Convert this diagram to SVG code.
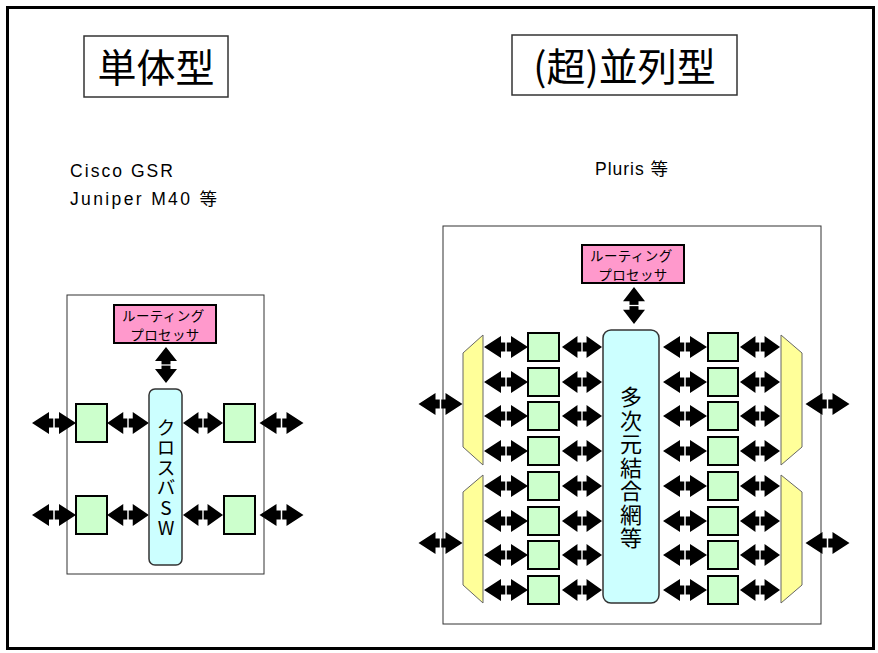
<svg xmlns="http://www.w3.org/2000/svg" xmlns:xlink="http://www.w3.org/1999/xlink" width="878" height="653" viewBox="0 0 878 653">
  <style>
    .frame { fill: #ffffff; stroke: #000000; stroke-width: 3; }
    .title { fill: #ffffff; stroke: #333333; stroke-width: 1.5; }
    .title-text { font-family: "Noto Sans CJK JP", "Liberation Sans", sans-serif; font-size: 39px; fill: #000000; text-anchor: middle; }
    .label { font-family: "Liberation Sans", "Noto Sans CJK JP", sans-serif; font-size: 17.5px; fill: #000000; }
    .cage { fill: none; stroke: #333333; stroke-width: 1; }
    .cpu { fill: #ff99cc; stroke: #000000; stroke-width: 2; }
    .cpu-text { font-family: "Noto Sans CJK JP", sans-serif; font-size: 13.5px; letter-spacing: 0.4px; fill: #000000; text-anchor: middle; }
    .fabric { fill: #ccffff; stroke: #333333; stroke-width: 1.5; }
    .fabric-text { font-family: "Noto Sans CJK JP", "Liberation Sans", sans-serif; fill: #000000; writing-mode: vertical-rl; text-orientation: upright; }
    .lc { fill: #ccffcc; stroke: #000000; stroke-width: 2; }
    .mux { fill: #ffff99; stroke: #666666; stroke-width: 1; }
  </style>
  <defs>
    <!-- bidirectional block arrow, 44 long, centred on the origin -->
    <g id="harr">
      <path d="M-22,0 L-5,-11 L-5,-4.5 L5,-4.5 L5,-11 L22,0 L5,11 L5,4.5 L-5,4.5 L-5,11 Z" fill="#000000"/>
      <line x1="0" y1="-5.5" x2="0" y2="5.5" stroke="#ffffff" stroke-width="1.5"/>
    </g>
  </defs>

  <!-- page frame -->
  <rect class="frame" x="7.5" y="7.5" width="866" height="641"/>

  <!-- headings -->
  <g id="title-single">
    <rect class="title" x="84" y="36" width="144" height="61"/>
    <text class="title-text" x="156" y="82">単体型</text>
  </g>
  <g id="title-parallel">
    <rect class="title" x="512" y="35" width="225" height="60"/>
    <text class="title-text" x="624.5" y="81" font-size="38">(超)並列型</text>
  </g>
  <g id="caption-single">
    <text class="label" x="70" y="177" textLength="103" lengthAdjust="spacing">Cisco GSR</text>
    <text class="label" x="70" y="205" textLength="147" lengthAdjust="spacing">Juniper M40 等</text>
  </g>
  <g id="caption-parallel">
    <text class="label" x="595" y="175" textLength="73" lengthAdjust="spacing">Pluris 等</text>
  </g>

  <!-- chassis outlines -->
  <rect id="chassis-single" class="cage" x="67" y="295" width="197" height="279"/>
  <rect id="chassis-parallel" class="cage" x="443" y="226" width="378" height="398"/>

  <!-- connectors -->
  <g id="connectors">
    <!-- single chassis -->
    <use xlink:href="#harr" transform="translate(166,365) rotate(90) scale(0.82,1)"/>
    <use xlink:href="#harr" transform="translate(54,423)"/>
    <use xlink:href="#harr" transform="translate(128,423) scale(0.95,1)"/>
    <use xlink:href="#harr" transform="translate(203,423) scale(0.91,1)"/>
    <use xlink:href="#harr" transform="translate(281.5,423)"/>
    <use xlink:href="#harr" transform="translate(54,515)"/>
    <use xlink:href="#harr" transform="translate(128,515) scale(0.95,1)"/>
    <use xlink:href="#harr" transform="translate(203,515) scale(0.91,1)"/>
    <use xlink:href="#harr" transform="translate(281.5,515)"/>

    <!-- parallel chassis -->
    <use xlink:href="#harr" transform="translate(634,305.5) rotate(90) scale(0.84,1)"/>
    <use xlink:href="#harr" transform="translate(440.5,404)"/>
    <use xlink:href="#harr" transform="translate(440.5,543)"/>
    <use xlink:href="#harr" transform="translate(827.5,404)"/>
    <use xlink:href="#harr" transform="translate(827.5,543)"/>

    <use xlink:href="#harr" transform="translate(506,347)"/>
    <use xlink:href="#harr" transform="translate(506,382)"/>
    <use xlink:href="#harr" transform="translate(506,416)"/>
    <use xlink:href="#harr" transform="translate(506,451)"/>
    <use xlink:href="#harr" transform="translate(506,486)"/>
    <use xlink:href="#harr" transform="translate(506,521)"/>
    <use xlink:href="#harr" transform="translate(506,555)"/>
    <use xlink:href="#harr" transform="translate(506,590)"/>

    <use xlink:href="#harr" transform="translate(582,347) scale(0.91,1)"/>
    <use xlink:href="#harr" transform="translate(582,382) scale(0.91,1)"/>
    <use xlink:href="#harr" transform="translate(582,416) scale(0.91,1)"/>
    <use xlink:href="#harr" transform="translate(582,451) scale(0.91,1)"/>
    <use xlink:href="#harr" transform="translate(582,486) scale(0.91,1)"/>
    <use xlink:href="#harr" transform="translate(582,521) scale(0.91,1)"/>
    <use xlink:href="#harr" transform="translate(582,555) scale(0.91,1)"/>
    <use xlink:href="#harr" transform="translate(582,590) scale(0.91,1)"/>

    <use xlink:href="#harr" transform="translate(685,347)"/>
    <use xlink:href="#harr" transform="translate(685,382)"/>
    <use xlink:href="#harr" transform="translate(685,416)"/>
    <use xlink:href="#harr" transform="translate(685,451)"/>
    <use xlink:href="#harr" transform="translate(685,486)"/>
    <use xlink:href="#harr" transform="translate(685,521)"/>
    <use xlink:href="#harr" transform="translate(685,555)"/>
    <use xlink:href="#harr" transform="translate(685,590)"/>

    <use xlink:href="#harr" transform="translate(760,347) scale(0.91,1)"/>
    <use xlink:href="#harr" transform="translate(760,382) scale(0.91,1)"/>
    <use xlink:href="#harr" transform="translate(760,416) scale(0.91,1)"/>
    <use xlink:href="#harr" transform="translate(760,451) scale(0.91,1)"/>
    <use xlink:href="#harr" transform="translate(760,486) scale(0.91,1)"/>
    <use xlink:href="#harr" transform="translate(760,521) scale(0.91,1)"/>
    <use xlink:href="#harr" transform="translate(760,555) scale(0.91,1)"/>
    <use xlink:href="#harr" transform="translate(760,590) scale(0.91,1)"/>
  </g>

  <!-- single chassis nodes -->
  <g id="rp-single">
    <rect class="cpu" x="114" y="305" width="102" height="38"/>
    <text class="cpu-text">
      <tspan x="165" y="320.5">ルーティング</tspan>
      <tspan x="165" y="340">プロセッサ</tspan>
    </text>
  </g>
  <g id="crossbar">
    <rect class="fabric" x="149" y="389" width="33" height="176" rx="6" ry="6"/>
    <text class="fabric-text" x="166" y="418" font-size="19" letter-spacing="1">クロスバSW</text>
  </g>
  <rect id="lc-s1" class="lc" x="76" y="404" width="31" height="38"/>
  <rect id="lc-s2" class="lc" x="76" y="496" width="31" height="38"/>
  <rect id="lc-s3" class="lc" x="224" y="404" width="31" height="38"/>
  <rect id="lc-s4" class="lc" x="224" y="496" width="31" height="38"/>

  <!-- parallel chassis nodes -->
  <g id="rp-parallel">
    <rect class="cpu" x="582" y="245" width="102" height="38"/>
    <text class="cpu-text">
      <tspan x="633" y="260.5">ルーティング</tspan>
      <tspan x="633" y="280">プロセッサ</tspan>
    </text>
  </g>
  <g id="interconnect">
    <rect class="fabric" x="603" y="330" width="56" height="273" rx="8" ry="8"/>
    <text class="fabric-text" x="631" y="386" font-size="22" letter-spacing="1.5">多次元結合網等</text>
  </g>

  <polygon id="mux-l1" class="mux" points="463,353 483,335 483,465 463,447"/>
  <polygon id="mux-l2" class="mux" points="463,492 483,475 483,603 463,585"/>
  <polygon id="mux-r1" class="mux" points="781,335 802,353 802,447 781,465"/>
  <polygon id="mux-r2" class="mux" points="781,475 802,492 802,585 781,603"/>

  <g id="lc-left">
    <rect class="lc" x="528" y="333" width="31" height="28"/>
    <rect class="lc" x="528" y="368" width="31" height="28"/>
    <rect class="lc" x="528" y="402" width="31" height="28"/>
    <rect class="lc" x="528" y="437" width="31" height="28"/>
    <rect class="lc" x="528" y="472" width="31" height="28"/>
    <rect class="lc" x="528" y="507" width="31" height="28"/>
    <rect class="lc" x="528" y="541" width="31" height="28"/>
    <rect class="lc" x="528" y="576" width="31" height="28"/>
  </g>
  <g id="lc-right">
    <rect class="lc" x="708" y="333" width="30" height="28"/>
    <rect class="lc" x="708" y="368" width="30" height="28"/>
    <rect class="lc" x="708" y="402" width="30" height="28"/>
    <rect class="lc" x="708" y="437" width="30" height="28"/>
    <rect class="lc" x="708" y="472" width="30" height="28"/>
    <rect class="lc" x="708" y="507" width="30" height="28"/>
    <rect class="lc" x="708" y="541" width="30" height="28"/>
    <rect class="lc" x="708" y="576" width="30" height="28"/>
  </g>
</svg>
